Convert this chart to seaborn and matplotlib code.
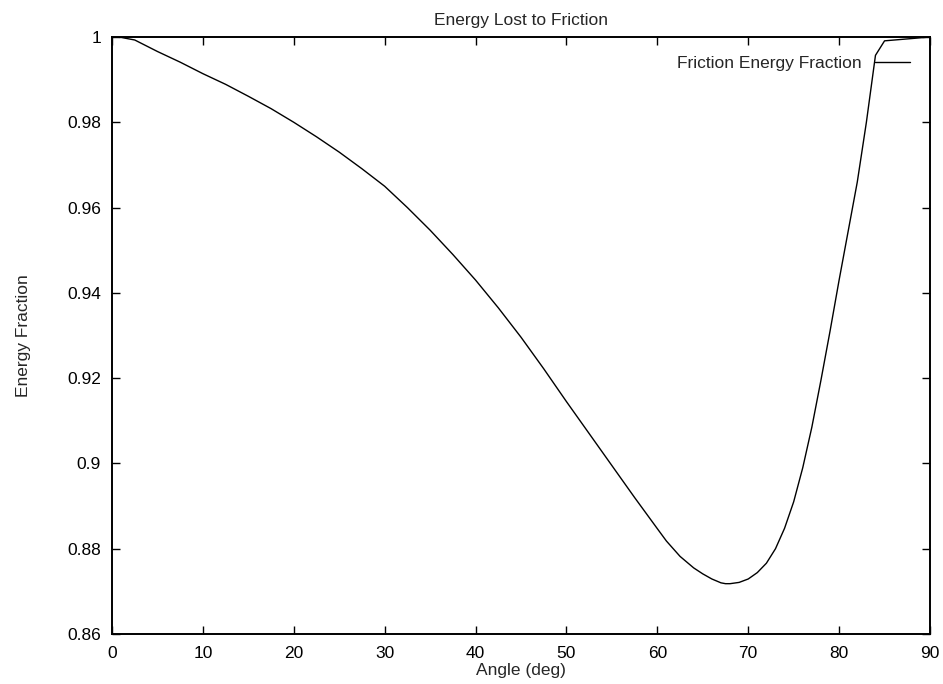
import matplotlib
matplotlib.use("Agg")
import matplotlib.pyplot as plt
import seaborn as sns
import pandas as pd

# Data
angle_deg = [0, 1, 2.5, 5, 7.5, 10, 12.5, 15, 17.5, 20, 22.5, 25, 27.5, 30, 32.5,
             35, 37.5, 40, 42.5, 45, 47.5, 50, 52.5, 55, 57.5, 60, 61, 62.5, 64,
             65, 66, 67, 67.5, 68, 69, 70, 71, 72, 73, 74, 75, 76, 77, 78, 79,
             80, 81, 82, 83, 84, 85, 90]
energy_fraction = [1.0, 0.9999, 0.9993, 0.9966, 0.9941, 0.9914, 0.9889, 0.9861,
                   0.9832, 0.9800, 0.9766, 0.9730, 0.9691, 0.9650, 0.9600, 0.9547,
                   0.9490, 0.9430, 0.9365, 0.9296, 0.9222, 0.9145, 0.9070, 0.8995,
                   0.8920, 0.8847, 0.8818, 0.8782, 0.8755, 0.8741, 0.8729, 0.8720,
                   0.8718, 0.8718, 0.8721, 0.8729, 0.8744, 0.8766, 0.8800, 0.8848,
                   0.8910, 0.8990, 0.9085, 0.9195, 0.9310, 0.9430, 0.9545, 0.9660,
                   0.9800, 0.9957, 0.9991, 1.0]
series_name = "Friction Energy Fraction"
x_ticks = [0, 10, 20, 30, 40, 50, 60, 70, 80, 90]
y_ticks = [0.86, 0.88, 0.90, 0.92, 0.94, 0.96, 0.98, 1.0]
y_tick_labels = ["0.86", "0.88", "0.9", "0.92", "0.94", "0.96", "0.98", "1"]

sns.set_style("white")
plt.rcParams["font.family"] = ["Liberation Sans", "DejaVu Sans"]
FS = 12.5
plt.rcParams["font.size"] = FS

df = pd.DataFrame({"Angle": angle_deg, "Fraction": energy_fraction})

fig = plt.figure(figsize=(9.43, 6.84), dpi=100)
ax = fig.add_axes([112 / 943, 50 / 684, 818 / 943, 597 / 684])

sns.lineplot(data=df, x="Angle", y="Fraction", ax=ax, color="black",
             linewidth=1.0, label=series_name, sort=False)

ax.set_xlim(0, 90)
ax.set_ylim(0.86, 1.0)
ax.set_xticks(x_ticks)
ax.set_xticklabels([str(t) for t in x_ticks])
ax.set_yticks(y_ticks)
ax.set_yticklabels(y_tick_labels)

for s in ax.spines.values():
    s.set_color("black")
    s.set_linewidth(1.4)

ax.tick_params(axis="both", which="major", direction="in", length=6, width=1.0,
               color="black", labelsize=FS, labelcolor="black",
               top=True, right=True, bottom=True, left=True)
ax.tick_params(axis="x", pad=9)
ax.tick_params(axis="y", pad=8)

ax.set_title("Energy Lost to Friction", fontsize=FS, pad=9)
ax.set_xlabel("Angle (deg)", fontsize=FS, labelpad=1)
ax.set_ylabel("Energy Fraction", fontsize=FS, labelpad=26)

leg = ax.legend(loc="upper right", bbox_to_anchor=(0.9756, 0.968), frameon=False,
                markerfirst=False, handlelength=2.0, handletextpad=0.8,
                borderpad=0, borderaxespad=0, fontsize=FS)

fig.savefig("out.png", dpi=100, facecolor="white")
